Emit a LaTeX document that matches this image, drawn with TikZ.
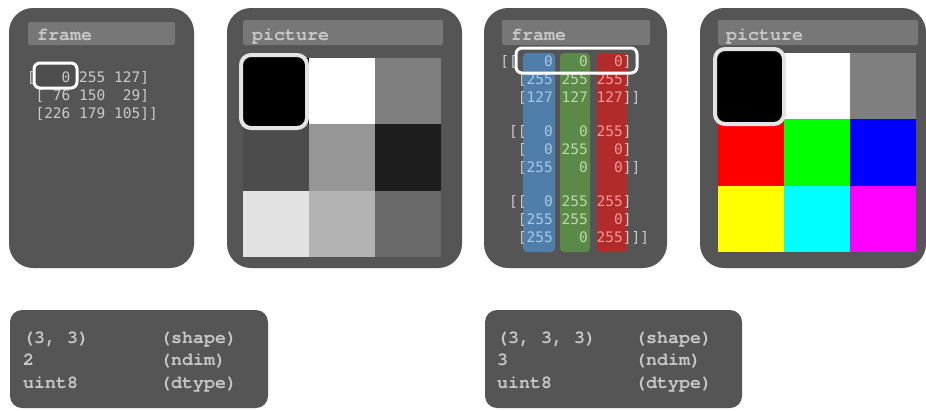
\documentclass[tikz,border=0pt]{standalone}
\usepackage{fontspec}
\newfontfamily\mtxfont{DejaVu Sans Mono}
\newfontfamily\codefont{texgyrecursor-bold.otf}
\definecolor{panelgray}{HTML}{555555}
\definecolor{headgray}{HTML}{777777}
\definecolor{txtgray}{HTML}{C8C8C8}
\definecolor{brkgray}{HTML}{CACACA}
\definecolor{colblue}{HTML}{4F7EAB}
\definecolor{colgreen}{HTML}{5B8A48}
\definecolor{colred}{HTML}{B32A2A}
\definecolor{tblue}{HTML}{A8C8E8}
\definecolor{tgreen}{HTML}{BCD9AA}
\definecolor{tred}{HTML}{F59A9A}
\definecolor{hilite}{HTML}{E4E4E4}
\tikzset{
  panel/.style={fill=panelgray, rounded corners=24pt},
  headbar/.style={fill=headgray, rounded corners=2pt},
  headtext/.style={font=\codefont\fontsize{18.3}{18.3}\selectfont, text=txtgray, anchor=base west, inner sep=0pt},
  mt/.style={font=\mtxfont\fontsize{14.5}{14.5}\selectfont, text=brkgray, anchor=base east, inner sep=0pt},
  infobox/.style={fill=panelgray, rounded corners=12pt},
  infotext/.style={font=\codefont\fontsize{18.3}{18.3}\selectfont, text=txtgray, anchor=base west, inner sep=0pt},
  hibox/.style={draw=hilite, line width=4pt, fill=black, rounded corners=10pt},
  hiframe/.style={draw=white, line width=3pt, rounded corners=6pt},
}
\begin{document}
\begin{tikzpicture}[x=1pt,y=-1pt]
\useasboundingbox (0,0) rectangle (926,410);
\fill[white] (0,0) rectangle (926,410);

% ---------- panels ----------
\fill[panel] (9,8) rectangle (194,268);
\fill[panel] (227,8) rectangle (462,268);
\fill[panel] (484,8) rectangle (667,268);
\fill[panel] (700,8) rectangle (926,268);

\fill[headbar] (28,22) rectangle (175,45);
\fill[headbar] (243,20) rectangle (443,45);
\fill[headbar] (502,20) rectangle (650,45);
\fill[headbar] (718,20) rectangle (918,45);

\node[headtext] (h1) at (37,40) {frame};
\node[headtext] (h2) at (252,40) {picture};
\node[headtext] (h3) at (511,40) {frame};
\node[headtext] (h4) at (726,40) {picture};

% ---------- panel 1: 2D matrix ----------
\def\xA{27}\def\wA{8.73}
\node[mt] (a2b) at ({\xA+2*\wA},100) {[};
\node[mt] (a2c1) at ({\xA+5*\wA},100) {76};
\node[mt] (a2c2) at ({\xA+9*\wA},100) {150};
\node[mt] (a2c3) at ({\xA+13*\wA},100) {29};
\node[mt] (a2e) at ({\xA+14*\wA},100) {]};
\node[mt] (a3b) at ({\xA+2*\wA},118) {[};
\node[mt] (a3c1) at ({\xA+5*\wA},118) {226};
\node[mt] (a3c2) at ({\xA+9*\wA},118) {179};
\node[mt] (a3c3) at ({\xA+13*\wA},118) {105};
\node[mt] (a3e) at ({\xA+15*\wA},118) {]]};
\draw[hiframe, fill=panelgray!92!black] (34,63) rectangle (77,88);
\node[mt] (a1b) at ({\xA+1*\wA},82) {[};
\node[mt] (a1c1) at ({\xA+5*\wA},82) {0};
\node[mt] (a1c2) at ({\xA+9*\wA},82) {255};
\node[mt] (a1c3) at ({\xA+13*\wA},82) {127};
\node[mt] (a1e) at ({\xA+14*\wA},82) {]};

% ---------- panel 2: gray picture ----------
\foreach \v [count=\i from 0] in {0,255,127,76,150,29,226,179,105}{
  \pgfmathtruncatemacro{\r}{int(\i/3)}
  \pgfmathtruncatemacro{\c}{mod(\i,3)}
  \fill[fill={rgb,255:red,\v;green,\v;blue,\v}]
    ({243+66*\c},{58+66.33*\r}) rectangle ({243+66*(\c+1)},{58+66.33*(\r+1)});
}
\draw[hibox] (241,55) rectangle (307,128);

% ---------- panel 3: 3D matrix ----------
\fill[colblue, rounded corners=4pt] (523,53) rectangle (555,252);
\fill[colgreen, rounded corners=4pt] (560,53) rectangle (590,252);
\fill[colred, rounded corners=4pt] (597,53) rectangle (627,252);
\def\xB{500.5}\def\wB{8.75}
\foreach \g/\gb/\ga/\gz/\gzend in {1/66/[[/]]/16, 2/136/[[/]]/16, 3/206/[[/]]]/17}{
  \ifnum\g=1
    \node[mt] (g\g o) at ({\xB+2*\wB},\gb) {\ga};
  \else
    \node[mt] (g\g o) at ({\xB+3*\wB},\gb) {\ga};
  \fi
  \node[mt] (g\g r1e) at ({\xB+15*\wB},\gb) {]};
  \node[mt] (g\g r2b) at ({\xB+3*\wB},\gb+18) {[};
  \node[mt] (g\g r2e) at ({\xB+15*\wB},\gb+18) {]};
  \node[mt] (g\g r3b) at ({\xB+3*\wB},\gb+36) {[};
  \node[mt] (g\g r3e) at ({\xB+\gzend*\wB},\gb+36) {\gz};
}
\foreach \g/\gb/\a/\b/\c/\d/\e/\f/\h/\i/\j in {
  1/66/0/0/0/255/255/255/127/127/127,
  2/136/0/0/255/0/255/0/255/0/0,
  3/206/0/255/255/255/255/0/255/0/255}{
  \node[mt, text=tblue]  (n\g a) at ({\xB+6*\wB},\gb) {\a};
  \node[mt, text=tgreen] (n\g b) at ({\xB+10*\wB},\gb) {\b};
  \node[mt, text=tred]   (n\g c) at ({\xB+14*\wB},\gb) {\c};
  \node[mt, text=tblue]  (n\g d) at ({\xB+6*\wB},\gb+18) {\d};
  \node[mt, text=tgreen] (n\g e) at ({\xB+10*\wB},\gb+18) {\e};
  \node[mt, text=tred]   (n\g f) at ({\xB+14*\wB},\gb+18) {\f};
  \node[mt, text=tblue]  (n\g h) at ({\xB+6*\wB},\gb+36) {\h};
  \node[mt, text=tgreen] (n\g i) at ({\xB+10*\wB},\gb+36) {\i};
  \node[mt, text=tred]   (n\g j) at ({\xB+14*\wB},\gb+36) {\j};
}
\draw[hiframe] (516,48) rectangle (637,73);

% ---------- panel 4: colour picture ----------
\foreach \R/\G/\B [count=\i from 0] in {0/0/0, 255/255/255, 127/127/127,
   255/0/0, 0/255/0, 0/0/255, 255/255/0, 0/255/255, 255/0/255}{
  \pgfmathtruncatemacro{\r}{int(\i/3)}
  \pgfmathtruncatemacro{\c}{mod(\i,3)}
  \fill[fill={rgb,255:red,\R;green,\G;blue,\B}]
    ({718+66*\c},{53+66.33*\r}) rectangle ({718+66*(\c+1)},{53+66.33*(\r+1)});
}
\draw[hibox] (715,49) rectangle (784,124);

% ---------- info boxes ----------
\fill[infobox] (10,310) rectangle (268,408);
\fill[infobox] (485,310) rectangle (742,408);

\node[infotext] (i1a) at (23,343) {(3, 3)};
\node[infotext] (i1b) at (23,365) {2};
\node[infotext] (i1c) at (23,388) {uint8};
\node[infotext] (i1d) at (160,343) {(shape)};
\node[infotext] (i1e) at (160,365) {(ndim)};
\node[infotext] (i1f) at (160,388) {(dtype)};

\node[infotext] (i2a) at (497,343) {(3, 3, 3)};
\node[infotext] (i2b) at (497,365) {3};
\node[infotext] (i2c) at (497,388) {uint8};
\node[infotext] (i2d) at (635,343) {(shape)};
\node[infotext] (i2e) at (635,365) {(ndim)};
\node[infotext] (i2f) at (635,388) {(dtype)};
\end{tikzpicture}
\end{document}
